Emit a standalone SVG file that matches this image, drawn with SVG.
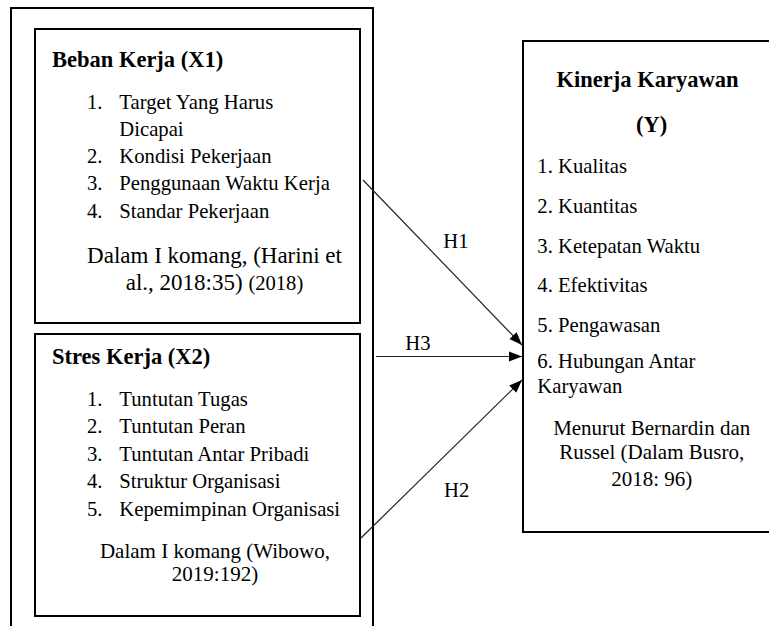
<svg xmlns="http://www.w3.org/2000/svg" width="769" height="626" viewBox="0 0 769 626">
<style>
.box{fill:none;stroke:#000;stroke-width:2}
.t{font-family:"Liberation Serif","Times New Roman",serif;fill:#000}
.title{font-size:22.5px;font-weight:bold}
.item{font-size:20.7px}
.cite{font-size:23px}
.cite2{font-size:21px}
.mid{text-anchor:middle}
.conn{fill:none;stroke:#222;stroke-width:1.2}
</style>
<defs>
<marker id="arr" markerUnits="userSpaceOnUse" markerWidth="14" markerHeight="12" refX="13" refY="5" orient="auto" viewBox="0 0 14 10">
<path d="M0,0 L13,5 L0,10 Z" fill="#000"/>
</marker>
</defs>
<rect width="769" height="626" fill="#fff"/>
<g id="outer-frame">
<rect class="box" x="11" y="8" width="362" height="630"/>
</g>
<g id="node-x1">
<rect class="box" x="35" y="29" width="325" height="294"/>
<text class="t title" x="52" y="67">Beban Kerja (X1)</text>
<text class="t item" x="87" y="108.5">1.</text>
<text class="t item" x="119.3" y="108.5">Target Yang Harus</text>
<text class="t item" x="119.3" y="135.8">Dicapai</text>
<text class="t item" x="87" y="163.1">2.</text>
<text class="t item" x="119.3" y="163.1">Kondisi Pekerjaan</text>
<text class="t item" x="87" y="190.4">3.</text>
<text class="t item" x="119.3" y="190.4">Penggunaan Waktu Kerja</text>
<text class="t item" x="87" y="217.7">4.</text>
<text class="t item" x="119.3" y="217.7">Standar Pekerjaan</text>
<text class="t cite mid" x="214.5" y="262.5">Dalam I komang, (Harini et</text>
<text class="t cite mid" x="214.5" y="289.5">al., 2018:35) <tspan font-size="20.6px">(2018)</tspan></text>
</g>
<g id="node-x2">
<rect class="box" x="35" y="334" width="325" height="282"/>
<text class="t title" x="52" y="364">Stres Kerja (X2)</text>
<text class="t item" x="87" y="405.5">1.</text>
<text class="t item" x="119.3" y="405.5">Tuntutan Tugas</text>
<text class="t item" x="87" y="433">2.</text>
<text class="t item" x="119.3" y="433">Tuntutan Peran</text>
<text class="t item" x="87" y="460.5">3.</text>
<text class="t item" x="119.3" y="460.5">Tuntutan Antar Pribadi</text>
<text class="t item" x="87" y="488">4.</text>
<text class="t item" x="119.3" y="488">Struktur Organisasi</text>
<text class="t item" x="87" y="515.5">5.</text>
<text class="t item" x="119.3" y="515.5">Kepemimpinan Organisasi</text>
<text class="t cite2 mid" x="215" y="558">Dalam I komang (Wibowo,</text>
<text class="t cite2 mid" x="215" y="580.5">2019:192)</text>
</g>
<g id="node-y">
<rect class="box" x="523" y="41" width="250" height="491"/>
<text class="t title mid" x="647.5" y="86.7">Kinerja Karyawan</text>
<text class="t title mid" x="651.7" y="131.7">(Y)</text>
<text class="t item" x="537.3" y="172.7">1. Kualitas</text>
<text class="t item" x="537.3" y="212.7">2. Kuantitas</text>
<text class="t item" x="537.3" y="252.7">3. Ketepatan Waktu</text>
<text class="t item" x="537.3" y="291.7">4. Efektivitas</text>
<text class="t item" x="537.3" y="331.7">5. Pengawasan</text>
<text class="t item" x="537.3" y="368">6. Hubungan Antar</text>
<text class="t item" x="537.3" y="392.5">Karyawan</text>
<text class="t cite2 mid" x="651.7" y="435">Menurut Bernardin dan</text>
<text class="t cite2 mid" x="651.7" y="459">Russel (Dalam Busro,</text>
<text class="t cite2 mid" x="651.7" y="485.5">2018: 96)</text>
</g>
<g id="connectors">
<line class="conn" x1="363" y1="180" x2="522" y2="345" marker-end="url(#arr)"/>
<line class="conn" x1="376" y1="356.5" x2="522" y2="356.5" marker-end="url(#arr)"/>
<line class="conn" x1="361" y1="538" x2="522" y2="380" marker-end="url(#arr)"/>
<text class="t item mid" x="456" y="248.3">H1</text>
<text class="t item mid" x="418" y="350">H3</text>
<text class="t item mid" x="456.7" y="496.7">H2</text>
</g>
</svg>
